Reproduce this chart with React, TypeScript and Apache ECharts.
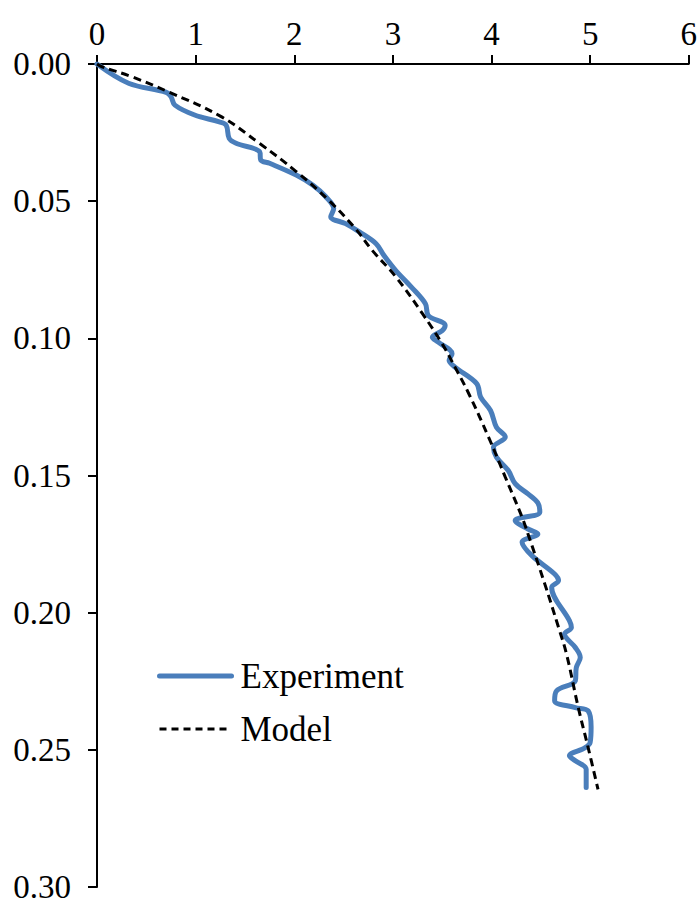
import React, { useEffect, useRef } from "react";
import * as echarts from "echarts";

const xTicks = [0, 1, 2, 3, 4, 5, 6];
const yTicks = [0, 0.05, 0.1, 0.15, 0.2, 0.25, 0.3];

const experimentX = [
  0, 0.32, 0.7, 0.75, 0.79, 0.99, 1.24, 1.31, 1.34, 1.41, 1.65, 1.66, 1.75, 2.02, 2.19, 2.32, 2.4, 2.37,
  2.52, 2.66, 2.83, 2.91, 3.03, 3.19, 3.33, 3.36, 3.53, 3.5, 3.4, 3.46, 3.6, 3.57, 3.63, 3.85, 3.89, 3.99,
  4.05, 4.14, 4.02, 4.05, 4.17, 4.24, 4.37, 4.47, 4.49, 4.24, 4.37, 4.47, 4.31, 4.41, 4.64, 4.68, 4.61,
  4.79, 4.81, 4.74, 4.85, 4.9, 4.86, 4.85, 4.66, 4.64, 4.85, 4.98, 5.01, 5.0, 4.95, 4.79, 4.85, 4.96, 4.96,
];
const experimentDepth = [
  0, 0.007, 0.0103, 0.0119, 0.015, 0.0186, 0.0211, 0.0223, 0.0271, 0.0289, 0.032, 0.035, 0.0362, 0.0405,
  0.0442, 0.0484, 0.0527, 0.0557, 0.0582, 0.0612, 0.0655, 0.0698, 0.0753, 0.0814, 0.0874, 0.0917, 0.0953,
  0.0972, 0.0996, 0.1014, 0.1056, 0.108, 0.1105, 0.1165, 0.1214, 0.1263, 0.1324, 0.136, 0.1397, 0.1433,
  0.1482, 0.153, 0.1567, 0.16, 0.1634, 0.1664, 0.1695, 0.1713, 0.1743, 0.1792, 0.1859, 0.1883, 0.1908,
  0.2029, 0.2054, 0.2078, 0.2127, 0.2163, 0.22, 0.2248, 0.2285, 0.2321, 0.2346, 0.2358, 0.2418, 0.2473,
  0.2492, 0.2522, 0.254, 0.2571, 0.2637,
];

const modelX = [
  0, 0.05, 0.35, 0.72, 1.25, 1.65, 2.02, 2.35, 2.62, 2.79, 3.03, 3.3, 3.5, 3.63, 3.77, 3.97, 4.14, 4.31,
  4.37, 4.54, 4.68, 4.76, 4.88, 4.98, 5.08,
];
const modelDepth = [
  0, 0.001, 0.0046, 0.0101, 0.019, 0.029, 0.0392, 0.0497, 0.06, 0.0679, 0.0776, 0.091, 0.102, 0.1105,
  0.1202, 0.136, 0.1506, 0.1652, 0.1713, 0.1895, 0.2054, 0.215, 0.2346, 0.2492, 0.2644,
];

const FONT = "Times New Roman, Liberation Serif, serif";

export default function App() {
  const ref = useRef<HTMLDivElement>(null);
  useEffect(() => {
    if (!ref.current) return;
    const chart = echarts.init(ref.current, null, { renderer: "svg" });
    const exp = experimentX.map((x, i) => [x, experimentDepth[i]]);
    const mod = modelX.map((x, i) => [x, modelDepth[i]]);
    chart.setOption({
      animation: false,
      backgroundColor: "#ffffff",
      textStyle: { fontFamily: FONT },
      grid: { left: 97, top: 64, right: 10, bottom: 22, containLabel: false },
      legend: {
        orient: "vertical",
        left: 152,
        top: 651,
        itemWidth: 72,
        itemHeight: 14,
        itemGap: 13,
        itemStyle: { opacity: 0 },
        textStyle: { fontFamily: FONT, fontSize: 35, color: "#000", lineHeight: 40, padding: [0, 0, 0, 4] },
        data: [
          { name: "Experiment", lineStyle: { width: 5, color: "#4A7EBB", cap: "round" } },
          { name: "Model", lineStyle: { width: 3, color: "#000", type: [7, 5] } },
        ],
      },
      xAxis: {
        type: "value",
        position: "top",
        min: 0,
        max: 6,
        interval: 1,
        data: xTicks,
        axisLine: { show: true, lineStyle: { color: "#000", width: 2 } },
        axisTick: { show: true, inside: false, length: 9, lineStyle: { color: "#000", width: 2 } },
        axisLabel: { fontFamily: FONT, fontSize: 33, color: "#000", margin: 14 },
        splitLine: { show: false },
      },
      yAxis: {
        type: "value",
        inverse: true,
        min: 0,
        max: 0.3,
        interval: 0.05,
        axisLine: { show: true, lineStyle: { color: "#000", width: 2 } },
        axisTick: { show: true, inside: false, length: 9, lineStyle: { color: "#000", width: 2 } },
        axisLabel: {
          fontFamily: FONT,
          fontSize: 33,
          color: "#000",
          margin: 26,
          formatter: (v: number) => {
            const t = yTicks.find((k) => Math.abs(k - v) < 1e-9);
            return (t ?? v).toFixed(2);
          },
        },
        splitLine: { show: false },
      },
      series: [
        {
          name: "Experiment",
          type: "line",
          data: exp,
          smooth: 0.35,
          symbol: "none",
          showSymbol: false,
          lineStyle: { color: "#4A7EBB", width: 5, cap: "round", join: "round" },
          itemStyle: { color: "#4A7EBB" },
          z: 2,
        },
        {
          name: "Model",
          type: "line",
          data: mod,
          smooth: 0.4,
          symbol: "none",
          showSymbol: false,
          lineStyle: { color: "#000", width: 3, type: [8, 5] },
          itemStyle: { color: "#000" },
          z: 3,
        },
      ],
    });
    return () => chart.dispose();
  }, []);
  return (
    <div
      ref={ref}
      style={{ position: "fixed", left: 0, top: 0, width: 700, height: 909, background: "#fff" }}
    />
  );
}
